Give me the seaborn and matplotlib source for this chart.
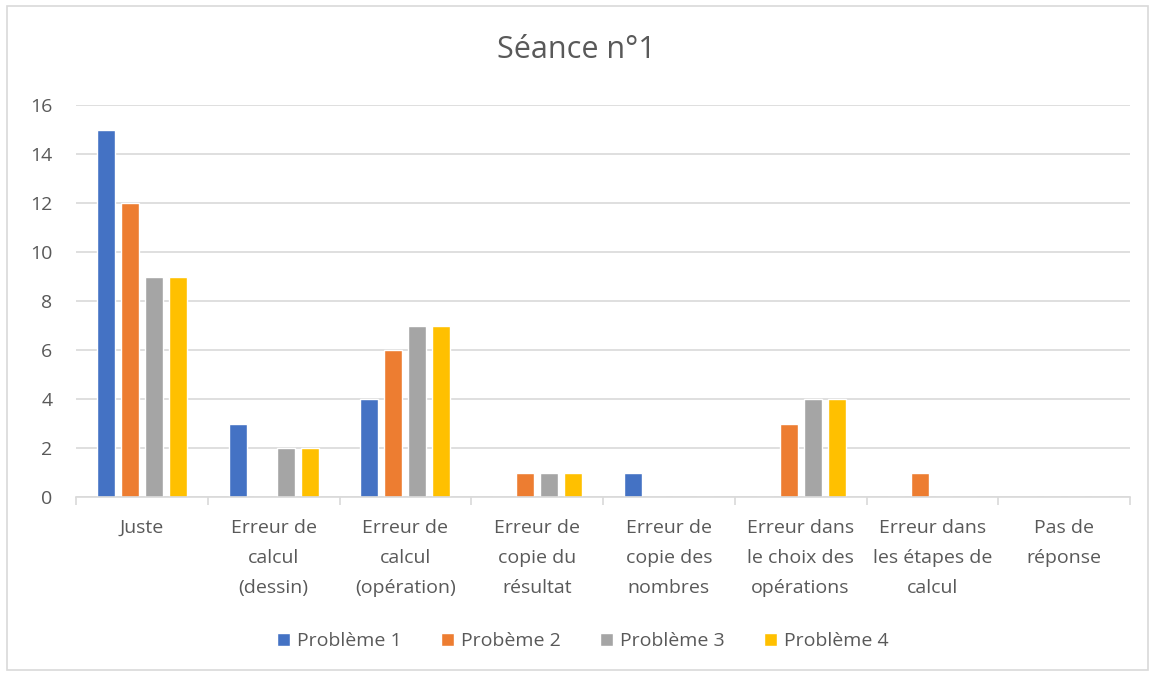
import pandas as pd
import matplotlib.pyplot as plt
import seaborn as sns
from matplotlib.patches import Rectangle

# Données
categories = [
    "Juste",
    "Erreur de\ncalcul\n(dessin)",
    "Erreur de\ncalcul\n(opération)",
    "Erreur de\ncopie du\nrésultat",
    "Erreur de\ncopie des\nnombres",
    "Erreur dans\nle choix des\nopérations",
    "Erreur dans\nles étapes de\ncalcul",
    "Pas de\nréponse",
]
series = ["Problème 1", "Probème 2", "Problème 3", "Problème 4"]
probleme_1 = [15, 3, 4, 0, 1, 0, 0, 0]
probleme_2 = [12, 0, 6, 1, 0, 3, 1, 0]
probleme_3 = [9, 2, 7, 1, 0, 4, 0, 0]
probleme_4 = [9, 2, 7, 1, 0, 4, 0, 0]
couleurs = ["#4472C4", "#ED7D31", "#A5A5A5", "#FFC000"]

def main():
    valeurs = [probleme_1, probleme_2, probleme_3, probleme_4]
    lignes = []
    for nom, vals in zip(series, valeurs):
        for cat, v in zip(categories, vals):
            lignes.append({"Catégorie": cat, "Série": nom, "Valeur": v})
    df = pd.DataFrame(lignes)

    sns.set_theme(style="white")
    plt.rcParams['font.family'] = ['Open Sans', 'DejaVu Sans']
    gris_texte = "#595959"

    fig = plt.figure(figsize=(11.52, 6.75), dpi=100)
    ax = fig.add_axes([76 / 1152, 1 - 497 / 675, (1130 - 76) / 1152, (497 - 105) / 675])

    sns.barplot(
        data=df, x="Catégorie", y="Valeur", hue="Série",
        order=categories, hue_order=series, palette=couleurs,
        width=0.73, gap=0.25, saturation=1, ax=ax, legend=True,
    )

    ax.set_ylim(0, 16)
    ax.set_yticks(range(0, 17, 2))
    ax.set_xlim(-0.5, len(categories) - 0.5)
    ax.yaxis.grid(True, color="#D9D9D9", linewidth=1.2)
    ax.set_axisbelow(True)
    for s in ["top", "right", "left"]:
        ax.spines[s].set_visible(False)
    ax.spines["bottom"].set_color("#D9D9D9")
    ax.spines["bottom"].set_linewidth(1.2)

    # graduations entre les catégories
    ax.set_xticks([i - 0.5 for i in range(len(categories) + 1)], minor=True)
    ax.tick_params(axis="x", which="minor", length=6, color="#D9D9D9", width=1.2, bottom=True)
    ax.tick_params(axis="x", which="major", length=0, pad=16, labelsize=14, labelcolor=gris_texte)
    ax.tick_params(axis="y", length=0, pad=17, labelsize=14, labelcolor=gris_texte)
    for lab in ax.get_xticklabels():
        lab.set_linespacing(1.85)
        lab.set_verticalalignment("top")

    ax.set_xlabel("")
    ax.set_ylabel("")

    fig.suptitle("Séance n°1", y=1 - 50 / 675, va="center", fontsize=22, color=gris_texte)

    ax.legend_.remove()
    fig.legend(
        *ax.get_legend_handles_labels(), loc="center", bbox_to_anchor=(583 / 1152, 1 - 641 / 675),
        ncol=4, frameon=False, fontsize=14, labelcolor=gris_texte,
        handlelength=0.65, handleheight=0.65, handletextpad=0.4, columnspacing=2.0,
    )

    # cadre du graphique
    fig.patches.append(Rectangle((7 / 1152, 5 / 675), 1141 / 1152, 664 / 675,
                                 transform=fig.transFigure, fill=False,
                                 edgecolor="#D9D9D9", linewidth=1.2))

    fig.savefig("out.png", dpi=100)

if __name__ == "__main__":
    main()
